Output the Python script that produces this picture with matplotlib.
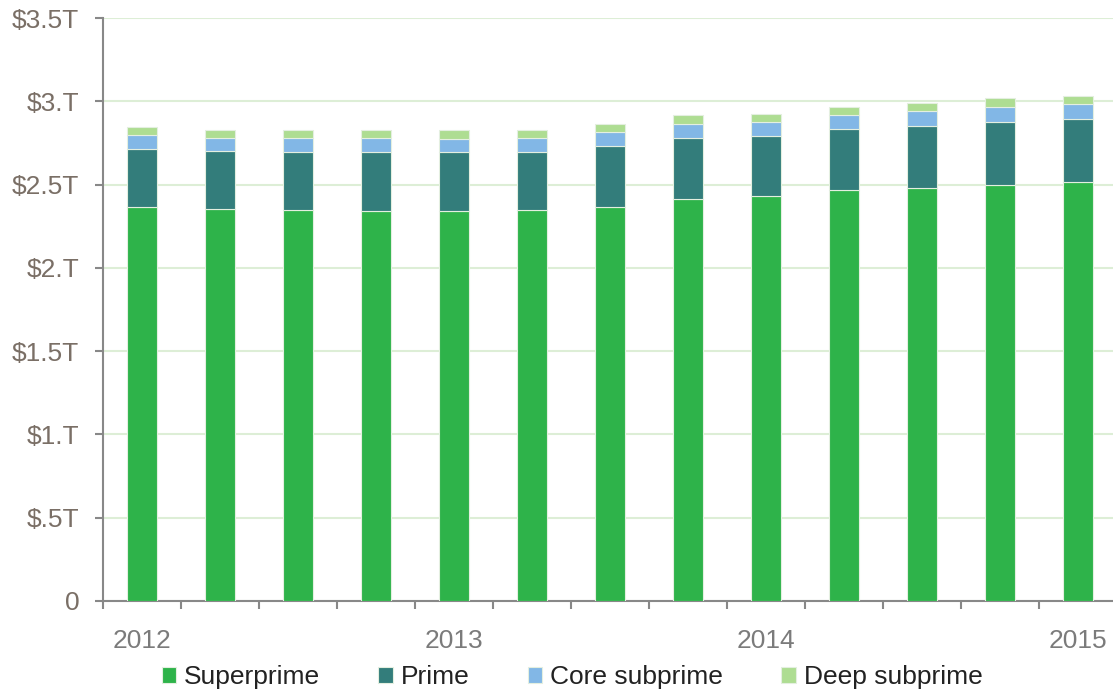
import matplotlib
matplotlib.use('Agg')
import matplotlib.pyplot as plt
import numpy as np

plt.rcParams['font.family'] = ['Liberation Sans', 'DejaVu Sans']

# 季度資料 (2012Q1 - 2015Q1), 單位: 兆美元
quarters = ['2012Q1', '2012Q2', '2012Q3', '2012Q4',
            '2013Q1', '2013Q2', '2013Q3', '2013Q4',
            '2014Q1', '2014Q2', '2014Q3', '2014Q4', '2015Q1']
year_labels = ['2012', '2013', '2014', '2015']
year_label_pos = [0, 4, 8, 12]

superprime = [2.368, 2.356, 2.350, 2.342, 2.342, 2.346, 2.368,
              2.415, 2.432, 2.468, 2.480, 2.498, 2.516]
prime = [0.346, 0.344, 0.348, 0.356, 0.352, 0.352, 0.362,
         0.363, 0.358, 0.364, 0.372, 0.378, 0.376]
core_subprime = [0.082, 0.082, 0.080, 0.080, 0.082, 0.084, 0.084,
                 0.085, 0.084, 0.084, 0.088, 0.092, 0.090]
deep_subprime = [0.052, 0.048, 0.052, 0.052, 0.050, 0.048, 0.050,
                 0.052, 0.052, 0.048, 0.050, 0.052, 0.052]

series = [('Superprime', superprime, '#2eb34a'),
          ('Prime', prime, '#337d7b'),
          ('Core subprime', core_subprime, '#82b7e6'),
          ('Deep subprime', deep_subprime, '#aedd92')]

y_ticks = [0, 0.5, 1.0, 1.5, 2.0, 2.5, 3.0, 3.5]
y_tick_labels = ['0', '$.5T', '$1.T', '$1.5T', '$2.T', '$2.5T', '$3.T', '$3.5T']

fig = plt.figure(figsize=(11.13, 6.96), dpi=100)
ax = fig.add_axes([0.0925, 0.1365, 0.911, 0.8376])

x = np.arange(len(quarters))
bottom = np.zeros(len(quarters))
for name, vals, color in series:
    ax.bar(x, vals, 0.39, bottom=bottom, color=color, label=name,
           edgecolor='#e4efe0', linewidth=0.8, zorder=3)
    bottom += np.array(vals)

ax.set_xlim(-0.5, len(quarters) - 0.5)
ax.set_ylim(0, 3.5)

ax.set_yticks(y_ticks)
ax.set_yticklabels(y_tick_labels)
ax.yaxis.grid(True, color='#ddeed6', linewidth=1.5, zorder=0)
ax.set_axisbelow(True)

ax.set_xticks(year_label_pos)
ax.set_xticklabels(year_labels)
ax.set_xticks(np.arange(len(quarters) + 1) - 0.5, minor=True)

ax.tick_params(axis='y', colors='#888888', labelcolor='#7a6f66', labelsize=19,
               length=6, width=1.5, pad=11)
ax.tick_params(axis='x', which='major', length=0, labelcolor='#7b7b7b',
               labelsize=19, pad=20)
ax.tick_params(axis='x', which='minor', length=6, width=1.5, color='#888888')

for side in ['top', 'right']:
    ax.spines[side].set_visible(False)
for side in ['left', 'bottom']:
    ax.spines[side].set_color('#888888')
    ax.spines[side].set_linewidth(1.5)

fig.legend(loc='center', bbox_to_anchor=(0.514, 0.027), ncol=4, frameon=False,
           fontsize=19, handlelength=0.55, handleheight=0.55,
           handletextpad=0.3, columnspacing=2.2, labelcolor='#222222')

plt.savefig('out.png', dpi=100)
plt.close()
